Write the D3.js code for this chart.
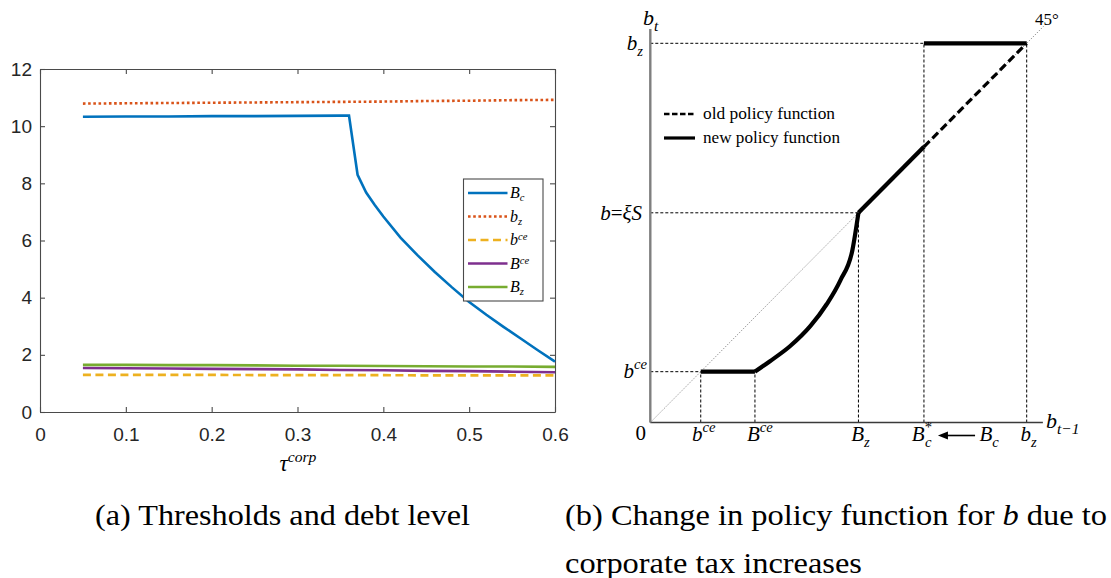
<!DOCTYPE html>
<html><head><meta charset="utf-8">
<script src="https://cdn.jsdelivr.net/npm/d3@7"></script>
<style>
body{margin:0;background:#fff}
svg{display:block}
</style></head><body>
<svg id="fig" width="1111" height="578"></svg>
<script>
// ---------- Panel (a): thresholds and debt level against the corporate tax rate ----------
const tauBc = [0.05,0.10,0.15,0.20,0.25,0.30,0.35,0.36,0.37,0.38,0.39,0.40,0.42,0.44,0.46,0.48,0.50,0.52,0.54,0.56,0.58,0.60];
const BcSeries = [10.33,10.34,10.34,10.35,10.35,10.36,10.37,10.37,8.30,7.68,7.24,6.84,6.10,5.48,4.90,4.36,3.85,3.40,2.98,2.57,2.16,1.76];
const tauGrid = [0.05,0.10,0.15,0.20,0.25,0.30,0.35,0.40,0.45,0.50,0.55,0.60];
const bzSeries  = [10.79,10.80,10.81,10.82,10.83,10.84,10.85,10.86,10.88,10.89,10.91,10.92];
const bceSeries = [1.30,1.30,1.30,1.30,1.29,1.29,1.29,1.29,1.28,1.28,1.28,1.28];
const BceSeries = [1.54,1.53,1.52,1.51,1.50,1.49,1.47,1.46,1.44,1.43,1.41,1.39];
const BzSeries  = [1.65,1.65,1.64,1.64,1.63,1.62,1.62,1.61,1.60,1.59,1.59,1.58];
const xTicksA = [0,0.1,0.2,0.3,0.4,0.5,0.6];
const yTicksA = [0,2,4,6,8,10,12];

// ---------- Panel (b): policy function for b ----------
const bceVal = 0.134, BceVal = 0.278, BzVal = 0.553, xiSVal = 0.553;
const BcStarVal = 0.727, BcVal = 0.90, bzVal = 1.0;
// convex segment of the new policy function between B^ce and B_z
const curvePrev = [0.278,0.317,0.371,0.425,0.469,0.505,0.537,0.553];
const curveNext = [0.134,0.161,0.201,0.254,0.3125,0.375,0.455,0.553];

const SERIF = '"Liberation Serif","Times New Roman",serif';
const SANS = '"Liberation Sans",Arial,Helvetica,sans-serif';
const svg = d3.select('#fig');

// Math-style label: parts = [{t, pos:'base'|'sub'|'sup', up:bool, dx}]
function mathText(parent, x, y, parts, size, anchor, shifts) {
  const sh = shifts || {sub: 0.28, sup: 0.42, scale: 0.7};
  const txt = parent.append('text').attr('x', x).attr('y', y)
    .attr('font-family', SERIF).attr('font-size', size)
    .attr('text-anchor', anchor || 'start').attr('fill', '#000');
  let shift = 0;
  parts.forEach(p => {
    const pos = p.pos || 'base';
    const target = pos === 'sub' ? sh.sub * size : pos === 'sup' ? -sh.sup * size : 0;
    const ts = txt.append('tspan').text(p.t)
      .attr('font-style', p.up ? 'normal' : 'italic')
      .attr('font-size', pos === 'base' ? size : size * sh.scale);
    if (target !== shift) ts.attr('dy', target - shift);
    if (p.dx) ts.attr('dx', p.dx);
    shift = target;
  });
  return txt;
}

// ===== Panel (a) =====
const A = {l: 40, r: 555, t: 69, b: 412};
const xA = d3.scaleLinear().domain([0, 0.6]).range([A.l, A.r]);
const yA = d3.scaleLinear().domain([0, 12]).range([A.b, A.t]);
const gA = svg.append('g');
const axisColor = '#4a4a4a';

function styleAxis(g) {
  g.select('.domain').attr('stroke', axisColor).attr('stroke-width', 1.1);
  g.selectAll('.tick line').attr('stroke', axisColor).attr('stroke-width', 1.1);
  g.selectAll('.tick text').attr('fill', '#262626').attr('font-family', SANS).attr('font-size', 19);
}
gA.append('g').attr('transform', `translate(0,${A.b})`)
  .call(d3.axisBottom(xA).tickValues(xTicksA).tickFormat(d => String(d)).tickSizeInner(-5).tickSizeOuter(0).tickPadding(16))
  .call(styleAxis);
gA.append('g').attr('transform', `translate(0,${A.t})`)
  .call(d3.axisTop(xA).tickValues(xTicksA).tickFormat('').tickSizeInner(-5).tickSizeOuter(0))
  .call(styleAxis);
gA.append('g').attr('transform', `translate(${A.l},0)`)
  .call(d3.axisLeft(yA).tickValues(yTicksA).tickFormat(d => String(d)).tickSizeInner(-5).tickSizeOuter(0).tickPadding(8))
  .call(styleAxis);
gA.append('g').attr('transform', `translate(${A.r},0)`)
  .call(d3.axisRight(yA).tickValues(yTicksA).tickFormat('').tickSizeInner(-5).tickSizeOuter(0))
  .call(styleAxis);

const seriesA = [
  {name: [{t:'B'},{t:'c',pos:'sub'}], tau: tauBc, vals: BcSeries, color: '#0072BD', dash: null},
  {name: [{t:'b'},{t:'z',pos:'sub'}], tau: tauGrid, vals: bzSeries, color: '#D95319', dash: '2.6,2.6'},
  {name: [{t:'b'},{t:'ce',pos:'sup'}], tau: tauGrid, vals: bceSeries, color: '#EDB120', dash: '8,4.5'},
  {name: [{t:'B'},{t:'ce',pos:'sup'}], tau: tauGrid, vals: BceSeries, color: '#7E2F8E', dash: null},
  {name: [{t:'B'},{t:'z',pos:'sub'}], tau: tauGrid, vals: BzSeries, color: '#77AC30', dash: null}
];
seriesA.forEach(s => {
  const line = d3.line().x((d, i) => xA(s.tau[i])).y(d => yA(d));
  gA.append('path').datum(s.vals).attr('d', line)
    .attr('fill', 'none').attr('stroke', s.color).attr('stroke-width', 2.6)
    .attr('stroke-dasharray', s.dash);
});

// legend
const leg = gA.append('g');
leg.append('rect').attr('x', 463.5).attr('y', 179).attr('width', 79.5).attr('height', 122)
  .attr('fill', '#fff').attr('stroke', axisColor).attr('stroke-width', 1.1);
seriesA.forEach((s, i) => {
  const y = 193 + i * 23.5;
  leg.append('line').attr('x1', 468).attr('x2', 507.5).attr('y1', y).attr('y2', y)
    .attr('stroke', s.color).attr('stroke-width', 2.6).attr('stroke-dasharray', s.dash);
  mathText(leg, 510, y + 5, s.name, 16, 'start', {sub: 0.2, sup: 0.3, scale: 0.66});
});

// x-axis title tau^corp
mathText(gA, 298, 471, [{t:'τ'},{t:'corp',pos:'sup'}], 23, 'middle', {sub: 0.28, sup: 0.38, scale: 0.68});

// ===== Panel (b) =====
const B = {x0: 650.3, y0: 422.5};
const xB = d3.scaleLinear().domain([0, 1]).range([B.x0, 1026.7]);
const yB = d3.scaleLinear().domain([0, 1]).range([B.y0, 43.3]);
const gB = svg.append('g');

// 45 degree reference line
gB.append('line').attr('x1', xB(0)).attr('y1', yB(0)).attr('x2', xB(1.045)).attr('y2', yB(1.045))
  .attr('stroke', '#8c8c8c').attr('stroke-width', 0.9).attr('stroke-dasharray', '1.4,1.4');

// thin dotted guide lines
const guide = (x1, y1, x2, y2) => gB.append('line')
  .attr('x1', xB(x1)).attr('y1', yB(y1)).attr('x2', xB(x2)).attr('y2', yB(y2))
  .attr('stroke', '#000').attr('stroke-width', 1).attr('stroke-dasharray', '3,2');
guide(0, bzVal, BcStarVal, bzVal);
guide(0, xiSVal, BzVal, xiSVal);
guide(0, bceVal, bceVal, bceVal);
guide(bceVal, 0, bceVal, bceVal);
guide(BceVal, 0, BceVal, bceVal);
guide(BzVal, 0, BzVal, xiSVal);
guide(BcStarVal, 0, BcStarVal, bzVal);
guide(bzVal, 0, bzVal, bzVal);

// axes
gB.append('line').attr('x1', xB(0)).attr('y1', yB(0)).attr('x2', xB(1.043)).attr('y2', yB(0))
  .attr('stroke', '#3a3a3a').attr('stroke-width', 1.4);
gB.append('line').attr('x1', xB(0)).attr('y1', yB(0)).attr('x2', xB(0)).attr('y2', yB(1.038))
  .attr('stroke', '#7f7f7f').attr('stroke-width', 2.4);

// old policy function (dashed, on the 45 degree line)
gB.append('line').attr('x1', xB(BcStarVal)).attr('y1', yB(BcStarVal)).attr('x2', xB(bzVal)).attr('y2', yB(bzVal))
  .attr('stroke', '#000').attr('stroke-width', 3.2).attr('stroke-dasharray', '8,4');

// new policy function
const segPath = d3.line().x(d => xB(d[0])).y(d => yB(d[1]));
gB.append('path').datum([[bceVal, bceVal], [BceVal, bceVal]]).attr('d', segPath)
  .attr('fill', 'none').attr('stroke', '#000').attr('stroke-width', 4.2);
gB.append('path').datum(curvePrev.map((v, i) => [v, curveNext[i]]))
  .attr('d', d3.line().x(d => xB(d[0])).y(d => yB(d[1])).curve(d3.curveMonotoneX))
  .attr('fill', 'none').attr('stroke', '#000').attr('stroke-width', 4.2).attr('stroke-linejoin', 'round');
gB.append('path').datum([[BzVal, xiSVal], [BcStarVal, BcStarVal]]).attr('d', segPath)
  .attr('fill', 'none').attr('stroke', '#000').attr('stroke-width', 4.2);
gB.append('path').datum([[BcStarVal, bzVal], [bzVal, bzVal]]).attr('d', segPath)
  .attr('fill', 'none').attr('stroke', '#000').attr('stroke-width', 4.2);

// legend
gB.append('line').attr('x1', 664).attr('x2', 695).attr('y1', 114).attr('y2', 114)
  .attr('stroke', '#000').attr('stroke-width', 2.4).attr('stroke-dasharray', '5.5,2.5');
gB.append('line').attr('x1', 664).attr('x2', 695).attr('y1', 138).attr('y2', 138)
  .attr('stroke', '#000').attr('stroke-width', 3.2);
gB.append('text').attr('x', 703).attr('y', 118.5).attr('font-family', SERIF).attr('font-size', 16)
  .attr('textLength', 132).attr('lengthAdjust', 'spacingAndGlyphs').text('old policy function');
gB.append('text').attr('x', 703).attr('y', 142.5).attr('font-family', SERIF).attr('font-size', 16)
  .attr('textLength', 137).attr('lengthAdjust', 'spacingAndGlyphs').text('new policy function');

// axis titles
mathText(gB, 643, 25, [{t:'b'},{t:'t',pos:'sub'}], 22);
mathText(gB, 1046, 428, [{t:'b'},{t:'t−1',pos:'sub'}], 22);
gB.append('text').attr('x', 1035).attr('y', 25).attr('font-family', SERIF).attr('font-size', 17).text('45°');

// vertical-axis labels
mathText(gB, 643, yB(bzVal) + 7, [{t:'b'},{t:'z',pos:'sub'}], 21, 'end');
mathText(gB, 642, yB(xiSVal) + 7, [{t:'b'},{t:'=',up:true},{t:'ξS'}], 21, 'end');
mathText(gB, 647, yB(bceVal) + 6.5, [{t:'b'},{t:'ce',pos:'sup'}], 21, 'end');
mathText(gB, 646, yB(0) + 17, [{t:'0',up:true}], 21, 'end');

// horizontal-axis labels
const yLab = 441;
mathText(gB, xB(bceVal) + 3, yLab, [{t:'b'},{t:'ce',pos:'sup'}], 21, 'middle');
mathText(gB, xB(BceVal) + 5, yLab, [{t:'B'},{t:'ce',pos:'sup'}], 21, 'middle');
mathText(gB, xB(BzVal) + 2, yLab, [{t:'B'},{t:'z',pos:'sub'}], 21, 'middle');
mathText(gB, xB(BcStarVal) - 2, yLab, [{t:'B'},{t:'*',pos:'sup',up:true},{t:'c',pos:'sub',dx:-7}], 21, 'middle');
mathText(gB, xB(BcVal), yLab, [{t:'B'},{t:'c',pos:'sub'}], 21, 'middle');
mathText(gB, xB(bzVal) + 2, yLab, [{t:'b'},{t:'z',pos:'sub'}], 21, 'middle');

// arrow from B_c to B_c^*
const ay = 435.5;
gB.append('line').attr('x1', xB(BcVal) - 14).attr('x2', xB(BcStarVal) + 22).attr('y1', ay).attr('y2', ay)
  .attr('stroke', '#000').attr('stroke-width', 1.6);
gB.append('path')
  .attr('d', `M${xB(BcStarVal) + 14},${ay} l10,-4 l0,8 z`).attr('fill', '#000');

// ===== Captions =====
svg.append('text').attr('x', 95).attr('y', 525).attr('font-family', SERIF).attr('font-size', 30)
  .attr('textLength', 375).attr('lengthAdjust', 'spacingAndGlyphs').text('(a) Thresholds and debt level');
const capB = svg.append('text').attr('x', 565).attr('y', 525).attr('font-family', SERIF).attr('font-size', 30)
  .attr('textLength', 542).attr('lengthAdjust', 'spacingAndGlyphs');
capB.append('tspan').text('(b) Change in policy function for ');
capB.append('tspan').attr('font-style', 'italic').text('b');
capB.append('tspan').text(' due to');
svg.append('text').attr('x', 565).attr('y', 573).attr('font-family', SERIF).attr('font-size', 30)
  .attr('textLength', 297).attr('lengthAdjust', 'spacingAndGlyphs').text('corporate tax increases');
</script>
</body></html>
